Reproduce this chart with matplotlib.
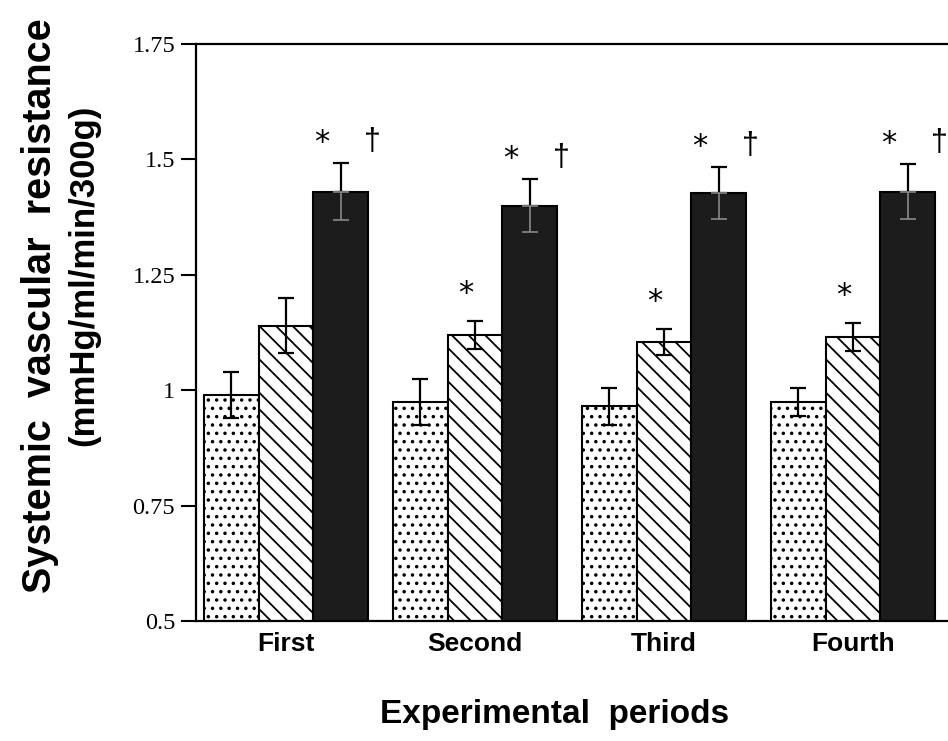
import numpy as np
import matplotlib.pyplot as plt

# Данные
periods = ["First", "Second", "Third", "Fourth"]
control = [0.99, 0.975, 0.965, 0.975]
control_err = [0.05, 0.05, 0.04, 0.03]
group2 = [1.14, 1.12, 1.105, 1.115]
group2_err = [0.06, 0.03, 0.028, 0.03]
group3 = [1.43, 1.40, 1.427, 1.43]
group3_err = [0.062, 0.057, 0.057, 0.06]

# значимость: * и †
group2_star = [False, True, True, True]
group3_star = [True, True, True, True]
group3_dagger = [True, True, True, True]

yticks = [0.5, 0.75, 1, 1.25, 1.5, 1.75]
ytick_labels = ["0.5", "0.75", "1", "1.25", "1.5", "1.75"]

plt.rcParams['hatch.linewidth'] = 1.3

fig = plt.figure(figsize=(9.48, 7.41), dpi=100)
ax = fig.add_axes([196 / 948, 1 - 621 / 741, 1 - 196 / 948, (621 - 44) / 741])

x = np.arange(len(periods))
w = 0.29

ax.bar(x - w, control, w, color="white", edgecolor="black", hatch="..", linewidth=1.5, zorder=2)
ax.bar(x, group2, w, color="white", edgecolor="black", hatch="\\\\", linewidth=1.5, zorder=2)
ax.bar(x + w, group3, w, color="#1c1c1c", edgecolor="black", linewidth=1.5, zorder=2)

ekw = dict(fmt="none", ecolor="black", elinewidth=1.6, capsize=6, capthick=1.6, zorder=3)
ax.errorbar(x - w, control, yerr=control_err, **ekw)
ax.errorbar(x, group2, yerr=group2_err, **ekw)
ax.errorbar(x + w, group3, yerr=[np.zeros(4), group3_err], **ekw)
ax.errorbar(x + w, group3, yerr=[group3_err, np.zeros(4)], fmt="none", ecolor="#8a8a8a",
            elinewidth=1.2, capsize=6, capthick=1.2, zorder=3)

for i in range(len(periods)):
    if group2_star[i]:
        ax.text(x[i] - 0.05, group2[i] + group2_err[i] + 0.06, "*", ha="center", va="center",
                fontsize=22, family="DejaVu Sans")
    if group3_star[i]:
        ax.text(x[i] + w - 0.1, group3[i] + group3_err[i] + 0.045, "*", ha="center", va="center",
                fontsize=22, family="DejaVu Sans")
    if group3_dagger[i]:
        ax.text(x[i] + w + 0.17, group3[i] + group3_err[i] + 0.045, "†", ha="center", va="center",
                fontsize=22, family="Liberation Sans")

ax.set_xlim(-0.476, 3.503)
ax.set_ylim(0.5, 1.75)
ax.set_yticks(yticks)
ax.set_yticklabels(ytick_labels, family="Liberation Serif", fontsize=17.5)
ax.set_xticks(x)
ax.set_xticklabels(periods, family="Liberation Sans", fontweight="bold", fontsize=19)
ax.tick_params(axis="x", length=0, pad=8)
ax.tick_params(axis="y", length=11, width=1.5, pad=4)

for s in ["left", "bottom", "top"]:
    ax.spines[s].set_linewidth(1.6)
ax.spines["right"].set_visible(False)

fig.text(555 / 948, 1 - 714 / 741, "Experimental  periods", ha="center", va="center",
         family="Liberation Sans", fontweight="bold", fontsize=24)
fig.text(40 / 948, 1 - 306 / 741, "Systemic  vascular  resistance", ha="center", va="center",
         rotation=90, family="Liberation Sans", fontweight="bold", fontsize=28.5)
fig.text(84 / 948, 1 - 275 / 741, "(mmHg/ml/min/300g)", ha="center", va="center",
         rotation=90, family="Liberation Sans", fontweight="bold", fontsize=25)

plt.savefig("out.png", dpi=100)
